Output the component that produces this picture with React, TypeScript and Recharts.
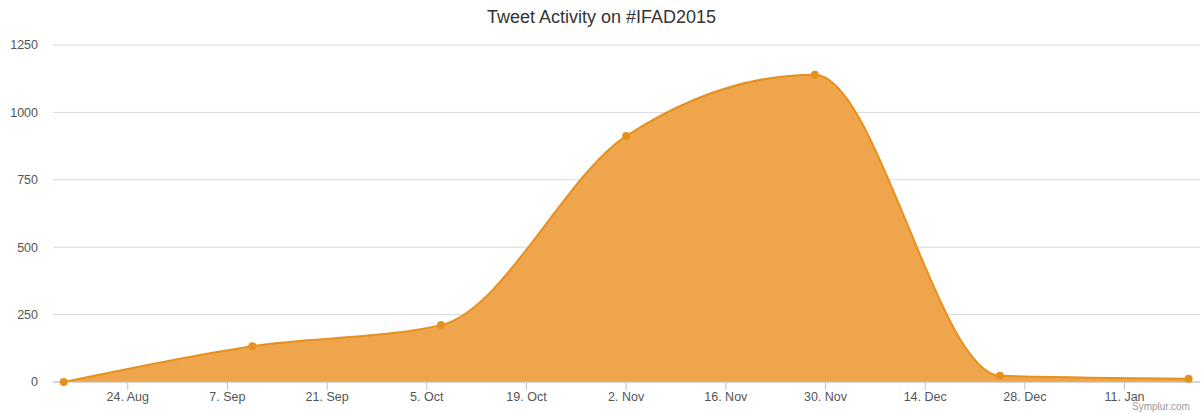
import React from 'react';
import { AreaChart, Area, XAxis, YAxis, CartesianGrid } from 'recharts';

// days counted from 24 Aug 2015
const DAYS = [-9, 17.5, 44, 70, 96.5, 122.5, 149];
const TWEETS = [0, 133, 211, 912, 1140, 23, 12];

const X_TICKS = [0, 14, 28, 42, 56, 70, 84, 98, 112, 126, 140];
const X_LABELS = ['24. Aug', '7. Sep', '21. Sep', '5. Oct', '19. Oct', '2. Nov', '16. Nov', '30. Nov', '14. Dec', '28. Dec', '11. Jan'];
const Y_TICKS = [0, 250, 500, 750, 1000, 1250];

const data = DAYS.map((d, i) => ({ day: d, tweets: TWEETS[i] }));

const FONT = '"Liberation Sans", Arial, Helvetica, sans-serif';
const STROKE = '#E8901E';
const FILL = '#EEA54C';

const App: React.FC = () => {
  return (
    <div style={{ position: 'absolute', left: 0, top: 0, width: 1203, height: 414, background: '#fff', fontFamily: FONT }}>
      <div style={{ position: 'absolute', top: 7, left: 0, width: 1203, textAlign: 'center', fontSize: 18, color: '#333' }}>
        Tweet Activity on #IFAD2015
      </div>
      <AreaChart width={1203} height={414} data={data} margin={{ top: 45, right: 3, left: 0, bottom: 0 }}>
        <CartesianGrid vertical={false} stroke="#D8D8D8" />
        <XAxis
          dataKey="day"
          type="number"
          domain={[-10.5, 150.6]}
          ticks={X_TICKS}
          tickFormatter={(v: number) => X_LABELS[X_TICKS.indexOf(v)] ?? ''}
          height={32}
          tickSize={8}
          tickMargin={2}
          stroke="#C0C0C0"
          tick={{ fill: '#555', fontSize: 12.5, fontFamily: FONT }}
          interval={0}
        />
        <YAxis
          domain={[0, 1250]}
          ticks={Y_TICKS}
          width={53}
          axisLine={false}
          tickLine={false}
          tickMargin={9}
          tick={{ fill: '#555', fontSize: 12.5, fontFamily: FONT }}
        />
        <Area
          type="monotone"
          dataKey="tweets"
          stroke={STROKE}
          strokeWidth={2}
          fill={FILL}
          fillOpacity={1}
          dot={{ r: 4, fill: STROKE, stroke: 'none' }}
          activeDot={false}
          isAnimationActive={false}
        />
      </AreaChart>
      <div style={{ position: 'absolute', left: 1132, top: 401, fontSize: 10, color: '#999' }}>Symplur.com</div>
    </div>
  );
};

export default App;
